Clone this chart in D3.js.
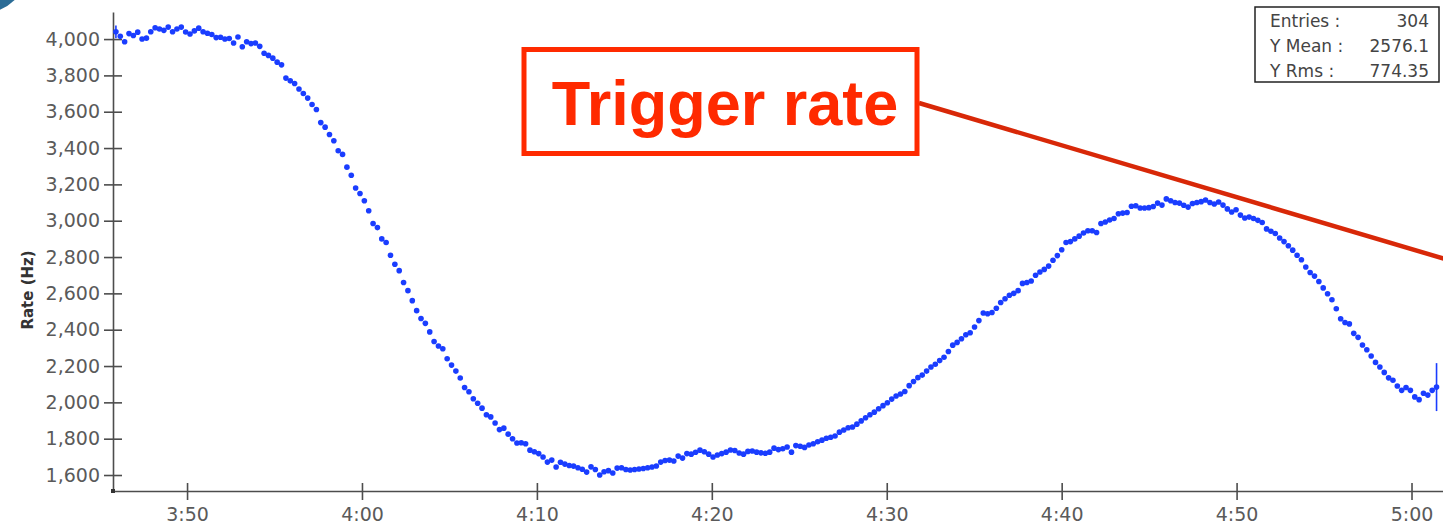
<!DOCTYPE html>
<html>
<head>
<meta charset="utf-8">
<script src="https://cdn.jsdelivr.net/npm/d3@7/dist/d3.min.js"></script>
<style>
  html, body { margin: 0; padding: 0; background: #fff; }
  svg { display: block; }
</style>
</head>
<body>
<svg id="chart" width="1443" height="529"></svg>
<script>
// ---- Data ----
const startTime = "03:45:56";      // time of first sample
const stepSeconds = 14.95;         // sampling interval
const rateHz = [
  4040,4015,3985,4030,4020,4038,4000,4005,4040,4062,
  4055,4048,4066,4040,4055,4066,4039,4028,4045,4060,
  4040,4032,4025,4008,4010,4000,4003,3978,4011,3958,
  3985,3975,3978,3960,3922,3910,3895,3873,3858,3785,
  3770,3755,3725,3700,3675,3640,3612,3540,3515,3475,
  3440,3385,3365,3295,3250,3180,3150,3110,3055,2985,
  2962,2900,2880,2810,2760,2725,2660,2615,2560,2505,
  2462,2435,2388,2335,2310,2295,2240,2205,2172,2134,
  2082,2058,2020,1995,1968,1932,1920,1886,1850,1858,
  1825,1800,1776,1778,1772,1737,1728,1718,1699,1671,
  1682,1644,1670,1660,1652,1649,1640,1632,1616,1645,
  1630,1600,1618,1624,1611,1638,1640,1630,1628,1630,
  1633,1636,1640,1644,1650,1671,1680,1682,1677,1704,
  1693,1718,1715,1725,1737,1728,1715,1699,1710,1718,
  1726,1738,1735,1721,1715,1730,1732,1726,1722,1720,
  1726,1748,1740,1745,1754,1726,1762,1758,1752,1765,
  1772,1783,1792,1802,1808,1815,1836,1848,1860,1864,
  1880,1898,1915,1932,1946,1965,1982,1998,2018,2035,
  2046,2060,2092,2115,2136,2150,2172,2195,2210,2230,
  2248,2280,2315,2330,2350,2372,2383,2415,2450,2492,
  2488,2495,2518,2550,2570,2590,2600,2615,2655,2660,
  2668,2700,2718,2732,2750,2782,2808,2840,2880,2885,
  2900,2915,2932,2945,2945,2935,2985,2993,3004,3012,
  3038,3042,3045,3080,3082,3070,3070,3072,3078,3097,
  3086,3120,3110,3100,3097,3085,3075,3095,3100,3105,
  3114,3100,3092,3103,3086,3065,3048,3060,3031,3015,
  3020,3012,3002,2990,2955,2942,2930,2905,2885,2862,
  2838,2810,2785,2745,2715,2695,2665,2630,2598,2565,
  2515,2460,2440,2432,2380,2358,2316,2290,2255,2220,
  2195,2165,2135,2122,2090,2066,2082,2066,2030,2015,
  2050,2040,2066,2084
];
const errorIndex = [0, 303];
const errorHz = [35, 132];
const yTicks = [1600,1800,2000,2200,2400,2600,2800,3000,3200,3400,3600,3800,4000];
const xTickLabels = ["3:50","4:00","4:10","4:20","4:30","4:40","4:50","5:00"];
const yDomain = [1512, 4149];
const xDomain = ["03:45:46", "05:01:48"];
const yTitle = "Rate (Hz)";
const statsLabels = ["Entries :", "Y Mean :", "Y Rms :"];
const statsValues = ["304", "2576.1", "774.35"];
const annotationText = "Trigger rate";

// ---- Setup ----
const parseT = d3.timeParse("%H:%M:%S");
const parseHM = d3.timeParse("%H:%M");
const t0 = parseT(startTime);
const points = rateHz.map((v, i) => ({ t: new Date(t0.getTime() + i * stepSeconds * 1000), v }));

const svg = d3.select("#chart");
const mLeft = 113, mRight = 1443, mTop = 12, mBottom = 491;

const x = d3.scaleTime().domain(xDomain.map(parseT)).range([mLeft, mRight]);
const y = d3.scaleLinear().domain(yDomain).range([mBottom, mTop]);

const axisColor = "#4d4d4d";
const labelColor = "#5a5a5a";
const font = "'DejaVu Sans', Verdana, sans-serif";

// decorative corner (slide artifact)
svg.append("circle").attr("cx", -20).attr("cy", -36).attr("r", 50).attr("fill", "#2b6c96");

// ---- Y axis ----
const yAxis = d3.axisLeft(y)
  .tickValues(yTicks)
  .tickFormat(d3.format(","))
  .tickSize(9).tickSizeOuter(0).tickPadding(4);
const gy = svg.append("g").attr("transform", `translate(${mLeft},0)`).call(yAxis);
gy.select(".domain").attr("stroke", axisColor).attr("stroke-width", 1.6);
gy.selectAll(".tick line").attr("x1", 9).attr("x2", -9).attr("stroke", axisColor).attr("stroke-width", 1.6);
gy.selectAll(".tick text").attr("fill", labelColor).attr("font-family", font).attr("font-size", 19);

// ---- X axis ----
const xTickDates = xTickLabels.map(parseHM);
const xAxis = d3.axisBottom(x)
  .tickValues(xTickDates)
  .tickFormat((d, i) => xTickLabels[i])
  .tickSize(9).tickSizeOuter(0).tickPadding(8);
const gx = svg.append("g").attr("transform", `translate(0,${mBottom})`).call(xAxis);
gx.select(".domain").attr("stroke", axisColor).attr("stroke-width", 1.6);
gx.selectAll(".tick line").attr("y1", -8).attr("y2", 9).attr("stroke", axisColor).attr("stroke-width", 1.6);
gx.selectAll(".tick text").attr("fill", labelColor).attr("font-family", font).attr("font-size", 19);

// corner square
svg.append("rect").attr("x", mLeft - 2).attr("y", mBottom - 2).attr("width", 4).attr("height", 4).attr("fill", "#333");

// Y title
svg.append("text")
  .attr("transform", `translate(33,290) rotate(-90)`)
  .attr("text-anchor", "middle")
  .attr("font-family", font).attr("font-weight", "bold").attr("font-size", 15)
  .attr("fill", "#333")
  .text(yTitle);

// ---- Data points ----
const blue = "#1a3dff";
svg.append("g").selectAll("line").data(errorIndex).join("line")
  .attr("x1", i => x(points[i].t)).attr("x2", i => x(points[i].t))
  .attr("y1", (i, k) => y(points[i].v + errorHz[k]))
  .attr("y2", (i, k) => y(points[i].v - errorHz[k]))
  .attr("stroke", blue).attr("stroke-width", 1.6);

svg.append("g").selectAll("circle").data(points).join("circle")
  .attr("cx", d => x(d.t)).attr("cy", d => y(d.v))
  .attr("r", 2.8).attr("fill", blue);

// ---- Stats box ----
const sb = svg.append("g");
sb.append("rect").attr("x", 1255).attr("y", 7).attr("width", 184).attr("height", 75)
  .attr("fill", "#fff").attr("stroke", "#222").attr("stroke-width", 1.5);
statsLabels.forEach((s, i) => {
  sb.append("text").attr("x", 1270).attr("y", 27 + i * 25)
    .attr("font-family", font).attr("font-size", 17).attr("fill", "#444").text(s);
  sb.append("text").attr("x", 1429).attr("y", 27 + i * 25).attr("text-anchor", "end")
    .attr("font-family", font).attr("font-size", 17).attr("fill", "#444").text(statsValues[i]);
});

// ---- Annotation ----
const red = "#ff2a00";
svg.append("line").attr("x1", 919).attr("y1", 103).attr("x2", 1445).attr("y2", 259)
  .attr("stroke", "#d82808").attr("stroke-width", 4.5);
svg.append("rect").attr("x", 524).attr("y", 49.5).attr("width", 393).attr("height", 104)
  .attr("fill", "#fff").attr("stroke", red).attr("stroke-width", 5);
svg.append("text").attr("x", 725).attr("y", 125).attr("text-anchor", "middle")
  .attr("font-family", "'Liberation Sans', Arial, sans-serif").attr("font-weight", "bold")
  .attr("font-size", 63).attr("fill", red).text(annotationText);
</script>
</body>
</html>
